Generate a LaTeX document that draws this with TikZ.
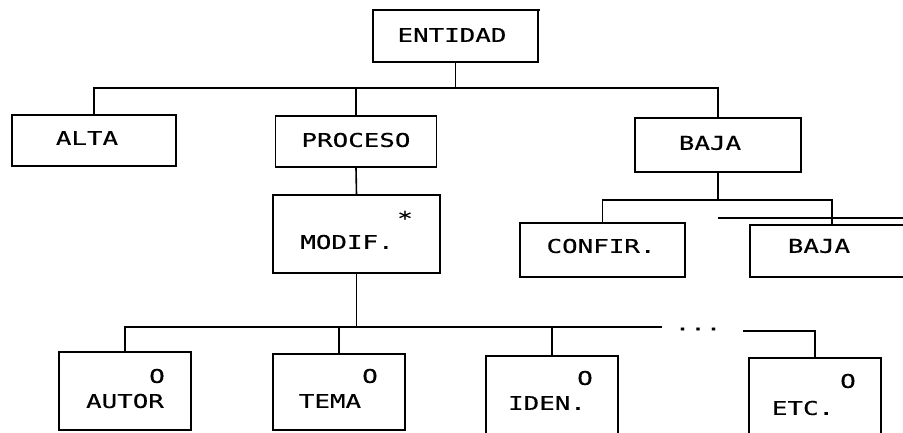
\documentclass[tikz,border=0pt]{standalone}
\usepackage{fontspec}
\newfontfamily\dotfont[FakeStretch=1.36,FakeBold=0.4]{DejaVu Sans Mono}
\begin{document}
\begin{tikzpicture}[x=1pt,y=-1pt,
  box/.style={draw, line width=1.6pt, rectangle, inner sep=0pt},
  lbl/.style={inner sep=0pt, font=\dotfont\fontsize{19}{19}\selectfont},
  con/.style={line width=1.6pt}]
\useasboundingbox (0,0) rectangle (903,432);
\fill[white] (0,0) rectangle (903,432);
% level 0
\node[box, minimum width=165pt, minimum height=52pt] (ent) at (455.5,36) {};
\node[lbl] (entt) at (452,35) {ENTIDAD};
\draw[line width=2.4pt] (377,10) -- (540,10);
% level 1
\node[box, minimum width=164pt, minimum height=51pt] (alta) at (94,140.5) {};
\node[lbl] (altat) at (87,138) {ALTA};
\node[box, minimum width=161pt, minimum height=51pt] (proc) at (356,141.5) {};
\node[lbl] (proct) at (356,140) {PROCESO};
\node[box, minimum width=166pt, minimum height=54pt] (baja) at (718,145) {};
\node[lbl] (bajat) at (710,143) {BAJA};
\coordinate (b1) at (0,88);
\draw[con] (ent.south) -- (ent.south |- b1);
\draw[con] (alta.north) |- (baja.north |- b1) -- (baja.north);
\draw[con] (proc.north) -- (proc.north |- b1);
% level 2
\node[box, minimum width=167pt, minimum height=78pt] (modif) at (356.5,234) {};
\node[lbl] (modift) at (347,242) {MODIF.};
\node[lbl] (ast) at (405,218) {*};
\draw[con] (proc.south) -- (modif.north);
\node[box, minimum width=165pt, minimum height=54pt] (confir) at (602.5,250) {};
\node[lbl] (confirt) at (601,246) {CONFIR.};
\node[box, minimum width=164pt, minimum height=52pt] (baja2) at (832,251) {};
\node[lbl] (baja2t) at (819,246) {BAJA};
\draw[con] (718,218) -- (910,218);
\coordinate (b2) at (0,200);
\draw[con] (baja.south) -- (baja.south |- b2);
\draw[con] (confir.north) |- (baja2.north |- b2) -- (baja2.north);
% level 3
\node[box, minimum width=132pt, minimum height=78pt] (autor) at (125,391) {};
\node[lbl] (autoro) at (157,376) {O};
\node[lbl] (autort) at (125,401) {AUTOR};
\node[box, minimum width=132pt, minimum height=76pt] (tema) at (339,392) {};
\node[lbl] (temao) at (370,376) {O};
\node[lbl] (temat) at (330,401) {TEMA};
\node[box, minimum width=132pt, minimum height=80pt] (iden) at (552,396) {};
\node[lbl] (ideno) at (585,378) {O};
\node[lbl] (ident) at (547,403) {IDEN.};
\node[box, minimum width=132pt, minimum height=80pt] (etc) at (815,398) {};
\node[lbl] (etco) at (848,381) {O};
\node[lbl] (etct) at (803,408) {ETC.};
\coordinate (b3) at (0,327);
\coordinate (gapL) at (662,327);
\coordinate (gapR) at (743,331);
\draw[con] (modif.south) -- (modif.south |- b3);
\draw[con] (autor.north) |- (gapL);
\draw[con] (tema.north) -- (tema.north |- b3);
\draw[con] (iden.north) -- (iden.north |- b3);
\node[lbl] (dots) at (698,329) {...};
\draw[con] (gapR) -| (etc.north);
\end{tikzpicture}
\end{document}
